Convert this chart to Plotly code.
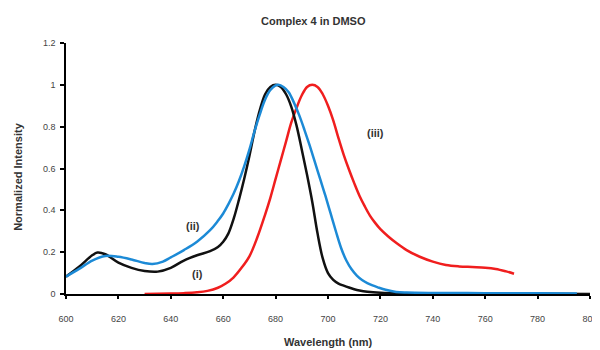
import plotly.graph_objects as go

# Curve (i) - black
wl_i = [600, 605, 610, 612, 615, 620, 625, 630, 635, 640, 645, 650, 655, 658, 660, 662, 664, 666, 668, 670,
        672, 674, 676, 678, 680, 682, 684, 686, 688, 690, 692, 694, 696, 698, 700, 702, 704, 706, 708, 710,
        712, 715, 720, 730, 750, 780, 800]
int_i = [0.083, 0.13, 0.185, 0.198, 0.19, 0.15, 0.125, 0.11, 0.107, 0.125, 0.16, 0.185, 0.205, 0.225, 0.25,
         0.29, 0.36, 0.45, 0.55, 0.66, 0.78, 0.88, 0.955, 0.99, 1.0, 0.99, 0.955, 0.895, 0.805, 0.69, 0.57, 0.44,
         0.29, 0.17, 0.10, 0.068, 0.05, 0.04, 0.031, 0.023, 0.017, 0.011, 0.006, 0.003, 0.001, 0.001, 0.0]

# Curve (ii) - blue
wl_ii = [600, 605, 610, 615, 620, 625, 630, 633, 637, 640, 645, 650, 655, 658, 660, 662, 664, 666, 668, 670,
         672, 674, 676, 678, 680, 681, 683, 685, 687, 689, 691, 693, 695, 697, 699, 701, 703, 705, 707, 709,
         711, 713, 715, 717, 719, 722, 726, 730, 740, 760, 780, 795]
int_ii = [0.083, 0.12, 0.16, 0.182, 0.178, 0.165, 0.148, 0.143, 0.155, 0.175, 0.21, 0.25, 0.305, 0.35, 0.385,
          0.43, 0.48, 0.54, 0.61, 0.69, 0.78, 0.86, 0.93, 0.975, 0.997, 1.0, 0.99, 0.965, 0.915, 0.855, 0.785,
          0.71, 0.63, 0.55, 0.47, 0.385, 0.30, 0.22, 0.16, 0.118, 0.088, 0.067, 0.052, 0.041, 0.032, 0.02, 0.01,
          0.007, 0.005, 0.004, 0.003, 0.002]

# Curve (iii) - red
wl_iii = [630, 640, 645, 650, 654, 658, 661, 664, 667, 670, 673, 676, 678, 680, 682, 684, 686, 688, 690, 692,
          694, 696, 698, 700, 702, 704, 706, 708, 710, 712, 714, 716, 718, 720, 723, 726, 730, 735, 740, 745,
          750, 755, 760, 764, 768, 771]
int_iii = [0.0, 0.002, 0.004, 0.008, 0.015, 0.03, 0.05, 0.08, 0.125, 0.18, 0.27, 0.38, 0.46, 0.55, 0.64, 0.73,
           0.82, 0.89, 0.95, 0.99, 1.0, 0.99, 0.955, 0.90, 0.83, 0.745, 0.665, 0.595, 0.53, 0.47, 0.42, 0.375,
           0.34, 0.31, 0.275, 0.245, 0.21, 0.178, 0.155, 0.139, 0.132, 0.129, 0.126, 0.12, 0.108, 0.097]

labels = ["(i)", "(ii)", "(iii)"]
label_x = [650, 648.5, 718]
label_y = [0.095, 0.325, 0.77]

x_ticks = [600, 620, 640, 660, 680, 700, 720, 740, 760, 780, 800]
y_ticks = [0, 0.2, 0.4, 0.6, 0.8, 1, 1.2]
y_ticktext = ["0", "0.2", "0.4", "0.6", "0.8", "1", "1.2"]

FONT = "Arial, Liberation Sans, sans-serif"
TXT = "#333333"

fig = go.Figure()
fig.add_trace(go.Scatter(x=wl_iii, y=int_iii, mode="lines", line=dict(color="#f01e1e", width=2.5, shape="spline")))
fig.add_trace(go.Scatter(x=wl_i, y=int_i, mode="lines", line=dict(color="#111111", width=2.5, shape="spline")))
fig.add_trace(go.Scatter(x=wl_ii, y=int_ii, mode="lines", line=dict(color="#1c8ad6", width=2.5, shape="spline")))

for t, x, y in zip(labels, label_x, label_y):
    fig.add_annotation(x=x, y=y, text="<b>%s</b>" % t, showarrow=False,
                       font=dict(family=FONT, size=11, color=TXT))

# Title and axis titles as paper annotations
fig.add_annotation(xref="paper", yref="paper", x=0.473, y=1.088, text="<b>Complex 4 in DMSO</b>",
                   showarrow=False, xanchor="center", yanchor="middle", font=dict(family=FONT, size=11, color=TXT))
fig.add_annotation(xref="paper", yref="paper", x=0.5, y=-0.19, text="<b>Wavelength (nm)</b>",
                   showarrow=False, xanchor="center", yanchor="middle", font=dict(family=FONT, size=11, color=TXT))
fig.add_annotation(xref="paper", yref="paper", x=-0.092, y=0.466, text="<b>Normalized Intensity</b>",
                   showarrow=False, textangle=-90, xanchor="center", yanchor="middle",
                   font=dict(family=FONT, size=11, color=TXT))

# The page body adds an 8px offset, so the figure is sized to fill the rest of the window.
fig.update_layout(
    width=592, height=342,
    margin=dict(l=58, r=10, t=35, b=56),
    paper_bgcolor="white", plot_bgcolor="white",
    showlegend=False,
    font=dict(family=FONT, color=TXT),
    xaxis=dict(range=[600, 800], tickvals=x_ticks, ticktext=[str(v) for v in x_ticks], automargin=False,
               showgrid=False, zeroline=False, showline=True, linecolor="black", linewidth=1.5,
               ticks="outside", ticklen=3, tickcolor="black", tickwidth=1.5,
               ticklabelstandoff=12, tickfont=dict(size=9, color="#444444")),
    yaxis=dict(range=[0, 1.2], tickvals=y_ticks, ticktext=y_ticktext, automargin=False,
               showgrid=False, zeroline=False, showline=True, linecolor="black", linewidth=1.5,
               ticks="outside", ticklen=4, tickcolor="black", tickwidth=1.5,
               ticklabelstandoff=3, tickfont=dict(size=9, color="#444444")),
)

fig.write_html("out.html")
